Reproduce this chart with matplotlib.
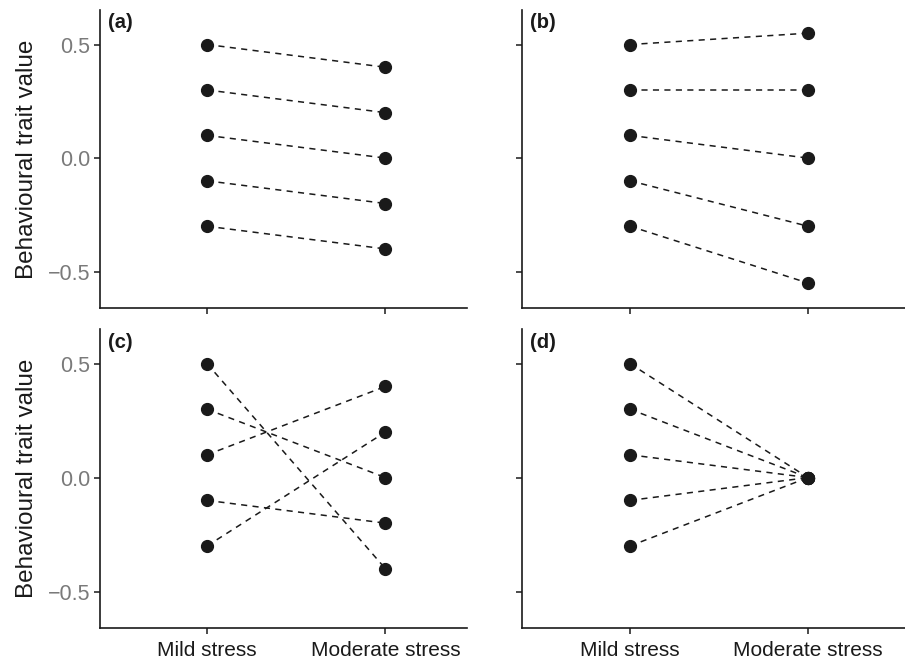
import matplotlib
matplotlib.use("Agg")
import matplotlib.pyplot as plt

plt.rcParams['font.family'] = ['Liberation Sans', 'DejaVu Sans']

conditions = ["Mild stress", "Moderate stress"]
panel_labels = ["(a)", "(b)", "(c)", "(d)"]

mild = [0.5, 0.3, 0.1, -0.1, -0.3]
moderate_a = [0.4, 0.2, 0.0, -0.2, -0.4]
moderate_b = [0.55, 0.3, 0.0, -0.3, -0.55]
moderate_c = [-0.4, 0.0, 0.4, -0.2, 0.2]
moderate_d = [0.0, 0.0, 0.0, 0.0, 0.0]

yticks = [-0.5, 0.0, 0.5]
ytick_labels = ["\u22120.5", "0.0", "0.5"]

W, H = 905, 665
fig = plt.figure(figsize=(W / 100, H / 100), dpi=100)

# panel boxes in pixels: left, right, top, bottom
boxes = [(100, 467, 10, 308), (522, 905, 10, 308),
         (100, 467, 329, 628), (522, 905, 329, 628)]
xlims = [(0.40, 2.457), (0.393, 2.545), (0.40, 2.457), (0.393, 2.545)]
moderates = [moderate_a, moderate_b, moderate_c, moderate_d]

ink = "#1a1a1a"
for i, ((l, r, t, b), xl, mod, lab) in enumerate(zip(boxes, xlims, moderates, panel_labels)):
    ax = fig.add_axes([l / W, 1 - b / H, (r - l) / W, (b - t) / H])
    for y0, y1 in zip(mild, mod):
        ax.plot([1, 2], [y0, y1], ls=(0, (4, 3.5)), color=ink, lw=1.1, zorder=1)
    ax.plot([1] * len(mild), mild, "o", color=ink, ms=8.5, zorder=3, clip_on=False)
    ax.plot([2] * len(mod), mod, "o", color=ink, ms=8.5, zorder=3, clip_on=False)
    ax.set_xlim(*xl)
    ax.set_ylim(-0.66, 0.652)
    ax.set_xticks([1, 2])
    ax.set_yticks(yticks)
    for side in ("top", "right"):
        ax.spines[side].set_visible(False)
    for side in ("left", "bottom"):
        ax.spines[side].set_linewidth(1.2)
        ax.spines[side].set_color(ink)
    ax.tick_params(length=4, width=1.1, color=ink, pad=3)
    if i >= 2:
        ax.set_xticklabels(conditions, fontsize=15, color=ink)
        ax.tick_params(axis="x", pad=5)
    else:
        ax.set_xticklabels([])
    if i % 2 == 0:
        ax.set_yticklabels(ytick_labels, fontsize=15.5, color="#7a7a7a")
        ax.set_ylabel("Behavioural trait value", fontsize=17.5, color=ink, labelpad=7)
    else:
        ax.set_yticklabels([])
    ax.text(8 / (r - l), 1 - 13 / (b - t), lab, transform=ax.transAxes,
            fontsize=14.5, fontweight="bold", color=ink, ha="left", va="center")

fig.savefig("out.png", dpi=100)
